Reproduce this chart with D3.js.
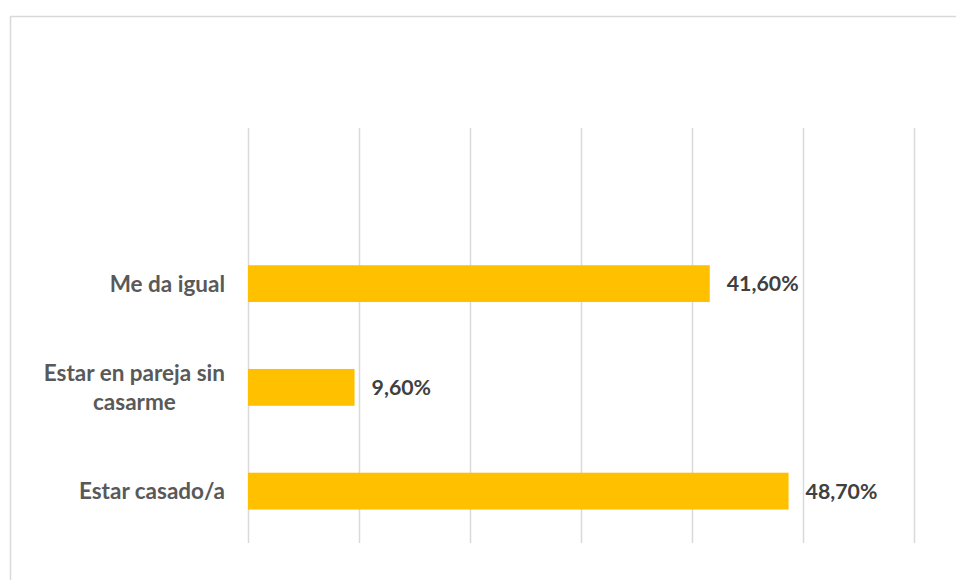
<!DOCTYPE html>
<html><head><meta charset="utf-8">
<script src="https://cdn.jsdelivr.net/npm/d3@7"></script>
<style>html,body{margin:0;padding:0;background:#fff;}svg{display:block;}</style>
</head><body>
<svg id="chart" width="956" height="580"></svg>
<script>
const categories = ["", "Me da igual", "Estar en pareja sin casarme", "Estar casado/a"];
const values = [null, 41.6, 9.6, 48.7];
const xTicks = [0, 10, 20, 30, 40, 50, 60];

const svg = d3.select("#chart");
const W = 956, H = 580;
const margin = {left: 248, right: 42, top: 128, bottom: 37};

svg.append("rect").attr("x", 10.5).attr("y", 16.5).attr("width", 1000).attr("height", 1000)
  .attr("fill", "#fff").attr("stroke", "#d9d9d9").attr("stroke-width", 1.5);

const x = d3.scaleLinear().domain([0, 60]).range([margin.left, W - margin.right]);
const y = d3.scaleBand().domain(categories).range([margin.top, H - margin.bottom]).paddingInner(0.645).paddingOuter(0.3225);

const grid = d3.axisBottom(x).tickValues(xTicks).tickSize(-(H - margin.bottom - margin.top)).tickFormat("");
const g = svg.append("g").attr("transform", `translate(0,${H - margin.bottom})`).call(grid);
g.select(".domain").remove();
g.selectAll(".tick line").attr("stroke", "#d9d9d9").attr("stroke-width", 1.5);

const data = categories.map((c, i) => ({c, v: values[i]})).filter(d => d.v != null);

svg.append("g").selectAll("rect").data(data).join("rect")
  .attr("x", x(0)).attr("y", d => y(d.c))
  .attr("width", d => x(d.v) - x(0)).attr("height", y.bandwidth())
  .attr("fill", "#FFC000");

const loc = d3.formatLocale({decimal: ",", thousands: ".", grouping: [3], currency: ["", "€"]});
const fmt = v => loc.format(".2f")(v) + "%";

svg.append("g").selectAll("text").data(data).join("text")
  .attr("x", d => x(d.v) + 17).attr("y", d => y(d.c) + y.bandwidth() / 2)
  .attr("dy", "0.35em")
  .attr("font-family", "Lato, 'Open Sans', sans-serif").attr("font-weight", "bold")
  .attr("font-size", 21.3).attr("fill", "#404040")
  .text(d => fmt(d.v));

// category labels with wrapping
const labelMaxW = 200;
const lab = svg.append("g").selectAll("text").data(data).join("text")
  .attr("font-family", "Lato, 'Open Sans', sans-serif").attr("font-weight", "bold")
  .attr("font-size", 22.5).attr("fill", "#595959");
lab.each(function(d) {
  const t = d3.select(this);
  const words = d.c.split(" ");
  const lines = [];
  let line = [];
  const tmp = t.append("tspan");
  words.forEach(w => {
    line.push(w);
    tmp.text(line.join(" "));
    if (tmp.node().getComputedTextLength() > labelMaxW && line.length > 1) {
      line.pop(); lines.push(line.join(" ")); line = [w];
    }
  });
  lines.push(line.join(" "));
  tmp.remove();
  const widths = lines.map(l => { const s = t.append("tspan").text(l); const w = s.node().getComputedTextLength(); s.remove(); return w; });
  const maxW = Math.max(...widths);
  const right = 225;
  const cx = right - maxW / 2;
  const lh = 29;
  const cy = y(d.c) + y.bandwidth() / 2;
  lines.forEach((l, i) => {
    t.append("tspan").attr("x", cx).attr("text-anchor", "middle")
      .attr("y", cy + (i - (lines.length - 1) / 2) * lh).attr("dy", "0.35em").text(l);
  });
});
</script>
</body></html>
